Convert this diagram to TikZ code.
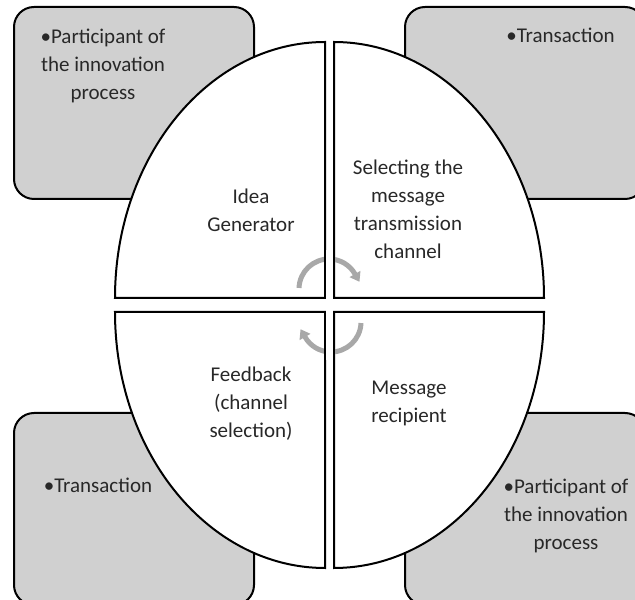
\documentclass[tikz,border=0pt]{standalone}
\usepackage{fontspec}
\setmainfont{Carlito}
\usetikzlibrary{arrows.meta}
\definecolor{boxgray}{RGB}{208,208,208}
\definecolor{arcgray}{RGB}{168,168,168}
\definecolor{txt}{RGB}{40,40,40}
\begin{document}
\begin{tikzpicture}[x=1pt,y=1pt,
  sidebox/.style={draw=black, line width=2pt, fill=boxgray, rounded corners=20pt,
    minimum width=240pt, minimum height=192pt, inner sep=0pt},
  quad/.style={fill=white, draw=black, line width=2pt},
  edge/.style={draw=black, line width=2pt},
  lbl/.style={font=\fontsize{21}{28}\selectfont, text=txt, align=center, inner sep=0pt},
  cyc/.style={draw=arcgray, line width=5pt, -{Triangle[length=9pt,width=12pt]}}]
\useasboundingbox (0,0) rectangle (635,600);
\clip (0,0) rectangle (635,600);
% side boxes
\node[sidebox] (boxTL) at (134,497) {};
\node[sidebox] (boxTR) at (525,497) {};
\node[sidebox] (boxBL) at (134,91) {};
\node[sidebox] (boxBR) at (525,91) {};
% quadrants
\path[quad] (325,302) -- (115,302) arc[start angle=180,end angle=90,x radius=210,y radius=256] -- cycle;
\path[quad] (334,302) -- (544,302) arc[start angle=0,end angle=90,x radius=210,y radius=256] -- cycle;
\path[quad] (325,288) -- (115,288) arc[start angle=180,end angle=270,x radius=210,y radius=256] -- cycle;
\path[quad] (334,288) -- (544,288) arc[start angle=0,end angle=-90,x radius=210,y radius=256] -- cycle;
% cycle arrows
\coordinate (ctop) at (329,311);
\coordinate (cbot) at (331,278);
\draw[cyc] ([shift={(178:30)}]ctop) arc[start angle=178,end angle=30,radius=30] -- ++(-60:9);
\draw[cyc] ([shift={(-2:30)}]cbot) arc[start angle=-2,end angle=-150,radius=30] -- ++(120:9);
\fill[white] (326.1,240) rectangle (332.9,350);
\draw[edge] (325,302) -- (325,350);
\draw[edge] (334,302) -- (334,350);
\draw[edge] (325,240) -- (325,288);
\draw[edge] (334,240) -- (334,288);
% box texts
\node[lbl] (tTL) at (103,534.5) {\textbullet Participant of\\the innovation\\process};
\node[lbl, anchor=base] (tTR) at (560.5,557) {\textbullet Transaction};
\node[lbl, anchor=base] (tBL) at (98,107) {\textbullet Transaction};
\node[lbl] (tBR) at (566,84) {\textbullet Participant of\\the innovation\\process};
% quadrant texts
\node[lbl] (qTL) at (251,389.5) {Idea\\Generator};
\node[lbl] (qTR) at (408,390.5) {Selecting the\\message\\transmission\\channel};
\node[lbl] (qBR) at (409,196.5) {Message\\recipient};
\node[lbl] (qBL) at (251,196.5) {Feedback\\(channel\\selection)};
\end{tikzpicture}
\end{document}
